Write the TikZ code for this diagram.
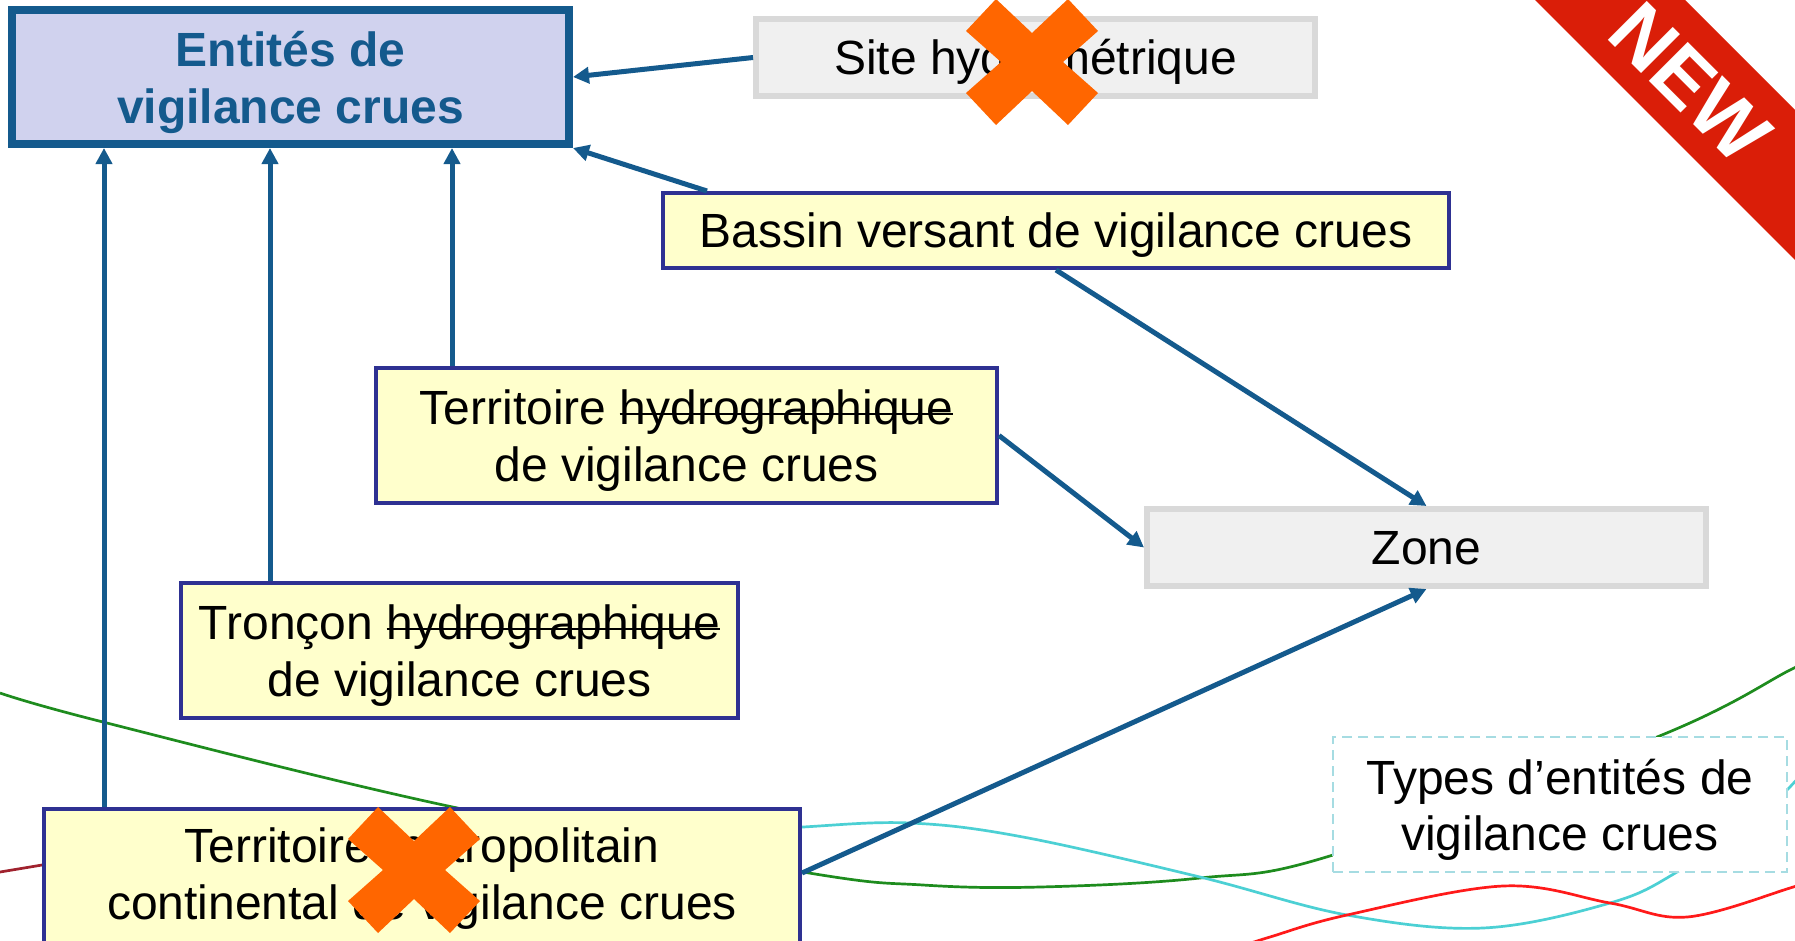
\documentclass[tikz,border=0pt]{standalone}
\usepackage{fontspec}
\setmainfont{Liberation Sans}
\usetikzlibrary{arrows.meta}
\definecolor{eblue}{HTML}{145A8D}
\definecolor{lav}{HTML}{D0D2EE}
\definecolor{ylw}{HTML}{FFFFCC}
\definecolor{navy}{HTML}{2E3192}
\definecolor{gfill}{HTML}{F0F0F0}
\definecolor{gline}{HTML}{D9D9D9}
\definecolor{xorange}{HTML}{FF6600}
\definecolor{ribred}{HTML}{DA1E08}
\definecolor{dashcyan}{HTML}{A6DCE2}
\definecolor{cgreen}{HTML}{1E8C1E}
\definecolor{ccyan}{HTML}{4CD0D4}
\definecolor{cred}{HTML}{FF1A1A}
\definecolor{cdred}{HTML}{A0222E}
\newcommand\oneline[1]{\setbox0=\hbox{#1}\ht0=34.4pt\dp0=0pt\box0}
\newcommand\twoline[3][0pt]{\setbox0=\vbox{\halign{\hfil##\hfil\cr#2\cr#3\cr}}\ht0=90.9pt\dp0=#1\box0}
\newcommand\strk[1]{\setbox2=\hbox{#1}\rlap{\rule[9.5pt]{\wd2}{2.5pt}}\box2}
\tikzset{
  basefont/.style={font=\fontsize{48pt}{56.5pt}\selectfont},
  tbox/.style={rectangle, draw=eblue, fill=lav, line width=8pt, inner sep=0pt, text=eblue,
    font=\fontsize{48pt}{56.5pt}\selectfont\bfseries},
  ybox/.style={rectangle, draw=navy, fill=ylw, line width=4pt, inner sep=0pt, basefont},
  gbox/.style={rectangle, draw=gline, fill=gfill, line width=6pt, inner sep=0pt, basefont},
  dbox/.style={rectangle, draw=dashcyan, fill=white, line width=2pt, dash pattern=on 10pt off 6pt,
    inner sep=0pt, basefont},
  arr/.style={draw=eblue, line width=5pt, -{Triangle[length=16pt,width=16pt]}},
  bgcurve/.style={line width=2.7pt},
  crossmark/.pic={\fill[xorange] (-36,-63) -- (0,-29) -- (36,-63) -- (66,-31) -- (31,0) -- (66,31)
    -- (36,63) -- (0,29) -- (-36,63) -- (-66,31) -- (-31,0) -- (-66,-31) -- cycle;}
}
\begin{document}
\begin{tikzpicture}[x=1pt,y=-1pt]
\useasboundingbox (0,0) rectangle (1795,940);
\clip (0,0) rectangle (1795,940);
\fill[white] (0,0) rectangle (1795,940);
% background curves
\draw[bgcurve, cgreen] plot[smooth, tension=0.6] coordinates {(0,693) (103,722) (448,806) (803,872) (923,885) (1040,887) (1200,878) (1333,855) (1657,737) (1790,670) (1810,660)};
\draw[bgcurve, ccyan] plot[smooth, tension=0.6] coordinates {(700,835) (803,827) (910,823) (1023,837) (1200,877) (1347,915) (1483,928) (1610,903) (1677,872) (1760,815) (1787,790) (1805,770)};
\draw[bgcurve, cred] plot[smooth, tension=0.6] coordinates {(1230,950) (1270,937) (1347,915) (1503,886) (1610,903) (1687,917) (1790,888) (1810,880)};
\draw[bgcurve, cdred] (0,872) -- (60,862);
% boxes
\node[tbox, minimum width=557pt, minimum height=134pt] (title) at (290.5,77) {\twoline{Entités de}{vigilance crues}};
\node[gbox, minimum width=559pt, minimum height=77pt] (site) at (1035.5,57.5) {\oneline{Site hydrométrique}};
\node[ybox, minimum width=786pt, minimum height=75pt] (bassin) at (1056,230.5) {\oneline{Bassin versant de vigilance crues}};
\node[ybox, minimum width=621pt, minimum height=135pt] (terr) at (686.5,435.5) {\twoline{Territoire \strk{hydrographique}}{de vigilance crues}};
\node[ybox, minimum width=557pt, minimum height=135pt] (tron) at (459.5,650.5) {\twoline{Tronçon \strk{hydrographique}}{de vigilance crues}};
\node[ybox, minimum width=756pt, minimum height=145pt] (metro) at (422,881.5) {\twoline[17.5pt]{Territoire métropolitain}{continental de vigilance crues}};
\node[gbox, minimum width=559pt, minimum height=77pt] (zone) at (1426.5,547.5) {\oneline{Zone}};
\node[dbox, minimum width=454pt, minimum height=135pt] (types) at (1560,804.5) {\twoline{Types d’entités de}{vigilance crues}};
% connectors
\coordinate (c3) at ([xshift=78pt]terr.north west);
\coordinate (c4) at ([xshift=91pt]tron.north west);
\coordinate (c5) at ([xshift=62pt]metro.north west);
\coordinate (c2) at ([xshift=46pt]bassin.north west);
\draw[arr] (site.west) -- (title.east);
\draw[arr] (c2) -- (title.south east);
\draw[arr] (c3) -- (c3 |- title.south);
\draw[arr] (c4) -- (c4 |- title.south);
\draw[arr] (c5) -- (c5 |- title.south);
\draw[arr] (bassin.south) -- (zone.north);
\draw[arr] (terr.east) -- (zone.west);
\draw[arr] ([yshift=8.5pt]metro.east) -- (zone.south);
% crosses
\pic at (1032,62) {crossmark};
\pic at (414,870) {crossmark};
% NEW ribbon
\fill[ribred] (1525,-10) -- (1675,-10) -- (1805,120) -- (1805,270) -- cycle;
\node[rotate=-45, text=white, inner sep=0pt, text height=57pt, text depth=0pt,
  font=\fontsize{80pt}{80pt}\selectfont\bfseries] (new) at (1691,82) {NEW};
\end{tikzpicture}
\end{document}
